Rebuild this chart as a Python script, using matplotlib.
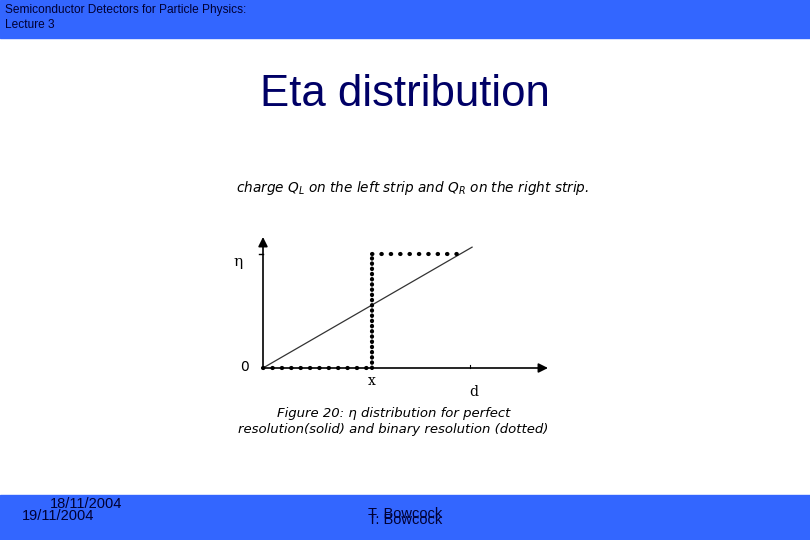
import matplotlib
matplotlib.use("Agg")
import matplotlib.pyplot as plt
from matplotlib.patches import Rectangle

W, H = 810, 540

# slide texts
header_lines = ["Semiconductor Detectors for Particle Physics:", "Lecture 3"]
title = "Eta distribution"
intro = r"charge $Q_L$ on the left strip and $Q_R$ on the right strip."
caption_1 = "Figure 20: η distribution for perfect"
caption_2 = "resolution(solid) and binary resolution (dotted)"
dates = ["18/11/2004", "19/11/2004"]
author = "T. Bowcock"

# diagram data (x in units of strip pitch d, y = eta)
solid_x = [0.0, 1.01]
solid_y = [0.0, 1.06]
x_step = 0.527
binary_low_x = [0.0, x_step]
binary_low_y = [0.0, 0.0]
binary_up_x = [x_step, x_step]
binary_up_y = [0.0, 1.0]
binary_top_x = [x_step, 0.975]
binary_top_y = [1.0, 1.0]

blue = "#3366ff"
navy = "#000066"
narrow = ["Liberation Sans Narrow", "Liberation Sans"]


def fx(px):
    return px / W


def fy(py):
    return 1 - py / H


fig = plt.figure(figsize=(8.1, 5.4), dpi=100)
fig.patch.set_facecolor("white")

# top / bottom bars
fig.add_artist(Rectangle((0, fy(38)), 1, 38 / H, transform=fig.transFigure,
                         color=blue, zorder=0))
fig.add_artist(Rectangle((0, 0), 1, 45 / H, transform=fig.transFigure,
                         color=blue, zorder=0))

fig.text(fx(5), fy(10), header_lines[0], fontsize=8.6, color="#000033",
         family="Liberation Sans", va="center")
fig.text(fx(5), fy(25), header_lines[1], fontsize=8.6, color="#000033",
         family="Liberation Sans", va="center")

fig.text(fx(405), fy(95), title, fontsize=31.5, color=navy,
         family="Liberation Sans", ha="center", va="center")

fig.text(fx(413), fy(188), intro, fontsize=9.8, style="italic",
         family="DejaVu Sans", ha="center", va="center")

# diagram axes: data (0,0) at px (263,368), (1,1) at px (470,254)
x0px, y0px, sx, sy = 263, 368, 207, 114
left, right, top, bottom = 225, 565, 225, 405
ax = fig.add_axes([fx(left), fy(bottom), (right - left) / W, (bottom - top) / H])
ax.set_xlim((left - x0px) / sx, (right - x0px) / sx)
ax.set_ylim((y0px - bottom) / sy, (y0px - top) / sy)
ax.axis("off")
ax.patch.set_alpha(0)

x_end = (548 - x0px) / sx
y_end = (y0px - 237) / sy
ax.annotate("", xy=(x_end, 0), xytext=(0, 0),
            arrowprops=dict(arrowstyle="-|>", color="black", lw=1.2,
                            mutation_scale=14, shrinkA=0, shrinkB=0))
ax.annotate("", xy=(0, y_end), xytext=(0, 0),
            arrowprops=dict(arrowstyle="-|>", color="black", lw=1.2,
                            mutation_scale=14, shrinkA=0, shrinkB=0))
ax.plot([-0.02, 0.0], [1.0, 1.0], color="black", lw=1)
ax.plot([1.0, 1.0], [0.0, 0.03], color="black", lw=0.8)

ax.plot(solid_x, solid_y, color="#333333", lw=0.9)
ax.plot(binary_low_x, binary_low_y, color="black", lw=3,
        linestyle=(0, (0.1, 2.15)), dash_capstyle="round")
ax.plot(binary_up_x, binary_up_y, color="black", lw=3,
        linestyle=(0, (0.1, 1.15)), dash_capstyle="round")
ax.plot(binary_top_x, binary_top_y, color="black", lw=3,
        linestyle=(0, (0.1, 2.15)), dash_capstyle="round")

ax.text(-0.12, 0.93, "η", fontsize=11, family="DejaVu Serif", ha="center", va="center")
ax.text(-0.09, 0.01, "0", fontsize=10, family="DejaVu Sans", ha="center", va="center")
ax.text(x_step, -0.11, "x", fontsize=10, family="DejaVu Serif", ha="center", va="center")
ax.text(1.02, -0.21, "d", fontsize=10, family="DejaVu Serif", ha="center", va="center")

fig.text(fx(394), fy(414), caption_1, fontsize=9.5, style="italic",
         family="DejaVu Sans", ha="center", va="center")
fig.text(fx(393), fy(430), caption_2, fontsize=9.5, style="italic",
         family="DejaVu Sans", ha="center", va="center")

fig.text(fx(50), fy(504), dates[0], fontsize=10.5, color="#000033",
         family=narrow, va="center")
fig.text(fx(22), fy(516), dates[1], fontsize=10.5, color="#000033",
         family=narrow, va="center")
fig.text(fx(405), fy(514), author, fontsize=10.5, color="#000033",
         family=narrow, ha="center", va="center")
fig.text(fx(405), fy(520), author, fontsize=10.5, color="#000033",
         family=narrow, ha="center", va="center")

fig.savefig("out.png", dpi=100)
